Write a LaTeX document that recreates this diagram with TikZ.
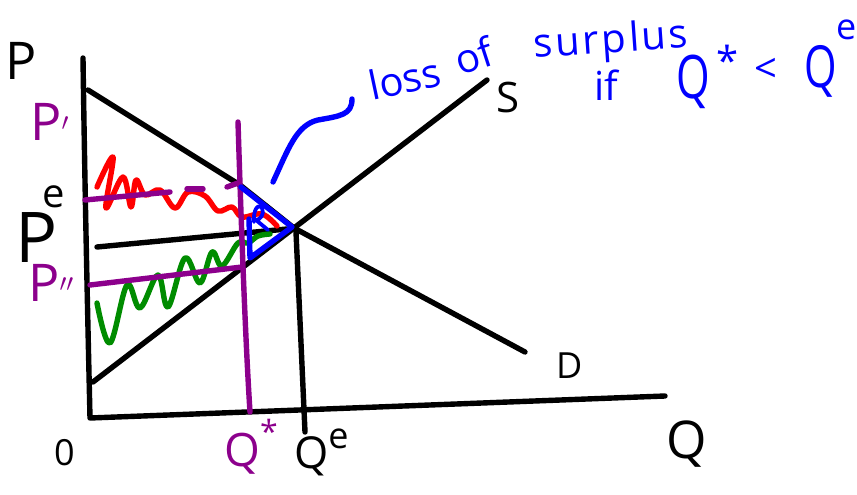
\documentclass[tikz,border=0pt]{standalone}
\usepackage{fontspec}
\setmainfont{Open Sans}
\definecolor{pur}{RGB}{140,0,140}
\definecolor{grn}{RGB}{0,140,0}
\definecolor{blu}{RGB}{0,0,255}
\definecolor{rd}{RGB}{255,0,0}
\newcommand{\fsz}[1]{\fontsize{#1}{#1}\selectfont}
\newcommand{\nQ}{\scalebox{0.72}[1]{Q}}
\tikzset{
  ink/.style={line width=5.4pt,line cap=round,line join=round},
  lbl/.style={inner sep=0pt,font=\fsz{52},anchor=base west},
  hand/.style={inner sep=0pt,blu,font=\fsz{40},anchor=base west},
}
\begin{document}
\begin{tikzpicture}[x=1pt,y=-1pt]
\useasboundingbox (0,0) rectangle (857,495);
% key points
\coordinate (Ytop) at (83,58);
\coordinate (O) at (90,418);
\coordinate (Xend) at (665,396);
\coordinate (E) at (294,228);
\coordinate (Dtop) at (88,90);
\coordinate (Dmid) at (240,185);
\coordinate (Dend) at (525,352);
\coordinate (Sbot) at (93,382);
\coordinate (Stop) at (487,80);
\coordinate (Qeb) at (305,432);
\coordinate (Qet) at (296,232);
\coordinate (Qst) at (238,122);
\coordinate (Qsb) at (250,412);
\coordinate (PeL) at (97,247);
\coordinate (PeR) at (287,229);
\coordinate (P1L) at (85,200);
\coordinate (P1R) at (170,192);
\coordinate (P2L) at (90,285);
\coordinate (P2R) at (242,267);
% axes
\draw[ink] (Ytop) .. controls (85,200) and (88,330) .. (O) -- (Xend);
% demand and supply
\draw[ink] (Dtop) -- (Dmid) -- (E) -- (Dend);
\draw[ink] (Sbot) -- (E) -- (Stop);
% equilibrium verticals / horizontals
\draw[ink] (Qet) -- (Qeb);
\draw[ink] (PeL) -- (PeR);
% red wiggle
\draw[ink,rd] plot[smooth,tension=0.6] coordinates {(97,187) (113,157) (106,208) (123,177) (131,207) (136,180) (145,195) (160,190) (175,208) (188,192) (205,196) (218,211) (232,207) (242,217) (262,214) (277,226)};
% green wiggle
\draw[ink,grn] plot[smooth,tension=0.6] coordinates {(97,303) (110,343) (127,285) (140,308) (158,275) (168,307) (185,258) (200,283) (212,252) (222,266) (238,243) (248,243) (258,236) (270,234)};
% purple lines
\draw[ink,pur] (Qst) .. controls (242,250) and (246,350) .. (Qsb);
\draw[ink,pur] (P1L) -- (P1R);
\coordinate (d1a) at (187,189); \coordinate (d1b) at (203,189);
\coordinate (d2a) at (227,187); \coordinate (d2b) at (238,183);
\draw[ink,pur] (d1a) -- (d1b);
\draw[ink,pur] (d2a) -- (d2b);
\draw[ink,pur] (P2L) -- (P2R);
% blue deadweight-loss triangle
\coordinate (T1) at (241,187);
\coordinate (T2) at (292,227);
\coordinate (T3) at (250,258);
\coordinate (T4) at (249,219);
\draw[ink,blu] (T1) -- (T2) -- (T3) -- (T4);
\draw[line width=3.8pt,blu,line cap=round,line join=round] (254,222) .. controls (253,210) and (258,203) .. (262,208) .. controls (265,214) and (260,220) .. (256,220) -- (268,230);
% blue callout
\coordinate (C1) at (273,182);
\coordinate (C2) at (352,99);
\draw[ink,blu] (C1) .. controls (288,150) and (296,125) .. (318,120) .. controls (340,116) and (352,115) .. (C2);
% labels
\node[lbl] (lP) at (5,80) {P};
\node[lbl,pur] (lP1) at (30,140) {P$'$};
\node[lbl,font=\fsz{70}] (lPe) at (15,262) {P};
\node[lbl,font=\fsz{40}] (lPe2) at (42,207) {e};
\node[lbl,pur] (lP2) at (28,301) {P$''$};
\node[lbl,font=\fsz{36}] (l0) at (54,465) {0};
\node[lbl,pur,font=\fsz{46}] (lQs) at (224,466) {Q\raisebox{0.5em}{\fsz{32}*}};
\node[lbl,font=\fsz{44}] (lQe) at (294,468) {Q\raisebox{0.45em}{\fsz{36}e}};
\node[lbl] (lQ) at (666,458) {Q};
\node[lbl,font=\fsz{36}] (lD) at (556,378) {D};
\node[lbl,font=\fsz{42}] (lS) at (496,112) {S};
% blue note
\node[hand,rotate=12] (t1a) at (372,101) {loss};
\node[hand,rotate=18] (t1b) at (460,76) {of};
\node[hand,rotate=4] (t1c) at (534,58) {s\hspace{3pt}u\hspace{3pt}r\hspace{3pt}p\hspace{3pt}l\hspace{2pt}u\hspace{2pt}s};
\node[hand] (t2) at (594,100) {if};
\node[hand,font=\fsz{60}] (t3) at (676,99) {\nQ};
\node[hand] (t4) at (716,76) {*};
\node[hand] (t5) at (754,82) {<};
\node[hand,font=\fsz{58}] (t6) at (804,88) {\nQ};
\node[hand,font=\fsz{36}] (t7) at (836,40) {e};
\end{tikzpicture}
\end{document}
